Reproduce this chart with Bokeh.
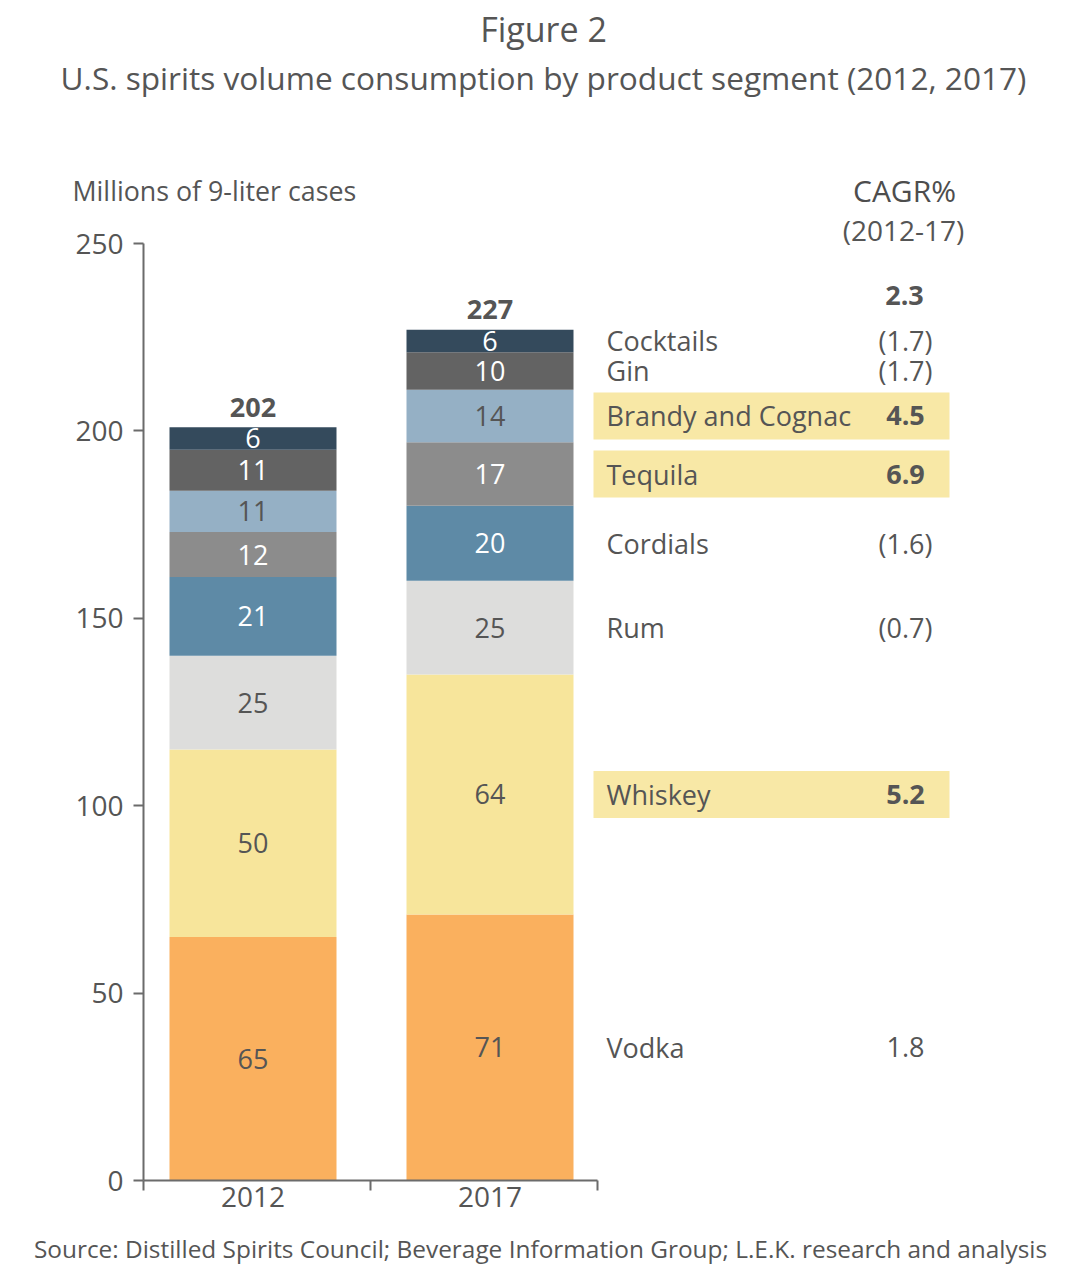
from bokeh.plotting import figure
from bokeh.layouts import column
from bokeh.models import Range1d, FixedTicker, ColumnDataSource
from bokeh.core.properties import value
from bokeh.embed import file_html
from bokeh.resources import INLINE

# ---------------- data ----------------
years = ["2012", "2017"]
segments = ["Vodka", "Whiskey", "Rum", "Cordials", "Tequila",
            "Brandy and Cognac", "Gin", "Cocktails"]
vol_2012 = [65, 50, 25, 21, 12, 11, 11, 6]
vol_2017 = [71, 64, 25, 20, 17, 14, 10, 6]
totals = [202, 227]
cagr = ["1.8", "5.2", "(0.7)", "(1.6)", "6.9", "4.5", "(1.7)", "(1.7)"]
cagr_total = "2.3"
highlight = [False, True, False, False, True, True, False, False]
y_ticks = [0, 50, 100, 150, 200, 250]

title = "Figure 2"
subtitle = "U.S. spirits volume consumption by product segment (2012, 2017)"
y_title = "Millions of 9-liter cases"
cagr_title = "CAGR%"
cagr_period = "(2012-17)"
source = ("Source: Distilled Spirits Council; Beverage Information Group; "
          "L.E.K. research and analysis")

# ---------------- styles ----------------
seg_colors = ["#FAB05E", "#F7E59B", "#DDDDDC", "#5E8AA6", "#8C8C8C",
              "#95B0C5", "#636363", "#344A5C"]
seg_text_colors = ["#555555", "#555555", "#555555", "#FFFFFF", "#FFFFFF",
                   "#555555", "#FFFFFF", "#FFFFFF"]
TXT = "#555555"
FONTNAME = "Open Sans"
FONT = value(FONTNAME)
HL = "#F8E8A6"
AX = "#6B6B6B"

W = 1075
HEAD_H = 210
MAIN_H = 1020
FOOT_H = 40
LEFT, BOTTOM = 143, 50
PXU_X = 227.0          # px per x unit
PXU_Y = 937.0 / 250.0  # px per y unit
Y0 = 1180              # page y of value 0


def rx(px):
    return (px - LEFT) / PXU_X


def ry(py):
    return (Y0 - py) / PXU_Y


def blank(h, top):
    f = figure(width=W, height=h, output_backend="svg", toolbar_location=None,
               x_range=Range1d(0, W), y_range=Range1d(top + h, top),
               x_axis_type=None, y_axis_type=None,
               min_border=0, min_border_left=0, min_border_right=0,
               min_border_top=0, min_border_bottom=0)
    f.frame_align = False
    f.outline_line_color = None
    f.xgrid.visible = False
    f.ygrid.visible = False
    f.border_fill_color = "white"
    return f


def txt(f, x, y, s, size, align="center", bold=False, color=TXT):
    f.text(x=[x], y=[y], text=[s], text_align=align, text_baseline="middle",
           text_font=FONT, text_font_size=size,
           text_font_style="bold" if bold else "normal", text_color=color)


# ---------------- header ----------------
head = blank(HEAD_H, 0)
txt(head, 543, 28, title, "34px")
txt(head, 543, 77, subtitle, "31.6px")
txt(head, 72, 190, y_title, "26.8px", align="left")
txt(head, 904, 190, cagr_title, "30px", color="#4D4D4D")

# ---------------- main chart ----------------
p = figure(width=W, height=MAIN_H, output_backend="svg", toolbar_location=None,
           x_range=Range1d(0, (W - LEFT) / PXU_X),
           y_range=Range1d(0, (Y0 - HEAD_H) / PXU_Y),
           min_border_left=LEFT, min_border_right=0, min_border_top=0,
           min_border_bottom=BOTTOM)
p.frame_align = False
p.outline_line_color = None
p.xgrid.visible = False
p.ygrid.visible = False
p.border_fill_color = "white"

bar_x = [rx(252.5), rx(489.5)]
bar_w = 167 / PXU_X

for bi, vals in enumerate([vol_2012, vol_2017]):
    bottoms, tops = [], []
    acc = 0
    for v in vals:
        bottoms.append(acc)
        acc += v
        tops.append(acc)
    src = ColumnDataSource(dict(
        x=[bar_x[bi]] * len(vals), bottom=bottoms, top=tops,
        color=seg_colors, mid=[(b + t) / 2 for b, t in zip(bottoms, tops)],
        label=[str(v) for v in vals], tcolor=seg_text_colors))
    p.vbar(x="x", width=bar_w, bottom="bottom", top="top", source=src,
           fill_color="color", line_color=None)
    p.text(x="x", y="mid", text="label", source=src, text_align="center",
           text_baseline="middle", text_font=FONT, text_font_size="27px",
           text_color="tcolor")
    p.text(x=[bar_x[bi]], y=[acc], text=[str(totals[bi])], text_align="center",
           text_baseline="middle", y_offset=-20, text_font=FONT,
           text_font_size="27px", text_font_style="bold", text_color=TXT)

acc = 0
mids = []
for v in vol_2017:
    mids.append(acc + v / 2)
    acc += v

hl_y = [m for m, h in zip(mids, highlight) if h]
p.rect(x=[rx(771)] * len(hl_y), y=hl_y, width=356 / PXU_X, height=47,
       height_units="screen", fill_color=HL, line_color=None)

p.text(x=[rx(606)] * len(segments), y=mids, text=segments, text_align="left",
       text_baseline="middle", text_font=FONT, text_font_size="27px",
       text_color=TXT)
for m, c, h in zip(mids, cagr, highlight):
    txt(p, rx(905), m, c, "27px", bold=h)

txt(p, rx(904), ry(295), cagr_total, "27px", bold=True)
txt(p, rx(903), ry(229), cagr_period, "28px")

ya = p.yaxis[0]
ya.ticker = FixedTicker(ticks=y_ticks)
ya.bounds = (0, 250)
ya.axis_line_color = AX
ya.axis_line_width = 2
ya.major_tick_line_color = AX
ya.major_tick_line_width = 2
ya.major_tick_out = 10
ya.major_tick_in = 0
ya.minor_tick_line_color = None
ya.major_label_text_font = FONTNAME
ya.major_label_text_font_size = "28px"
ya.major_label_text_color = TXT
ya.major_label_standoff = 10

xa = p.xaxis[0]
xa.ticker = FixedTicker(ticks=bar_x, minor_ticks=[0, 1, 2])
xa.bounds = (0, 2)
xa.major_label_overrides = {bar_x[0]: years[0], bar_x[1]: years[1]}
xa.axis_line_color = AX
xa.axis_line_width = 2
xa.major_tick_line_color = None
xa.major_tick_out = 0
xa.major_tick_in = 0
xa.minor_tick_line_color = AX
xa.minor_tick_line_width = 2
xa.minor_tick_out = 10
xa.minor_tick_in = 0
xa.major_label_text_font = FONTNAME
xa.major_label_text_font_size = "28px"
xa.major_label_text_color = TXT
xa.major_label_standoff = -4

# ---------------- footer ----------------
foot = blank(FOOT_H, HEAD_H + MAIN_H)
txt(foot, 540, 1248, source, "24.4px")

layout = column(head, p, foot, spacing=0)
open("out.html", "w").write(file_html(layout, INLINE))
